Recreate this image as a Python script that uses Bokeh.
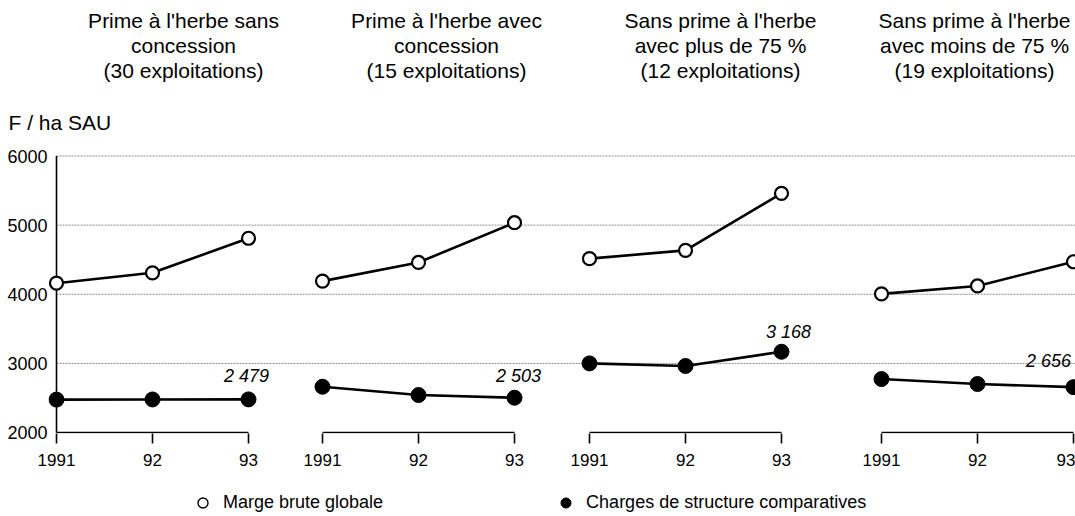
from bokeh.plotting import figure
from bokeh.layouts import column
from bokeh.models import Range1d, FixedTicker, Label, Legend, LegendItem, ColumnDataSource
from bokeh.embed import file_html
from bokeh.resources import INLINE

# ---------------- data ----------------
heading_line1 = ["Prime à l'herbe sans", "Prime à l'herbe avec", "Sans prime à l'herbe", "Sans prime à l'herbe"]
heading_line2 = ["concession", "concession", "avec plus de 75 %", "avec moins de 75 %"]
heading_line3 = ["(30 exploitations)", "(15 exploitations)", "(12 exploitations)", "(19 exploitations)"]
years = ["1991", "92", "93"]

marge_g1 = [4160, 4310, 4810]
marge_g2 = [4190, 4460, 5035]
marge_g3 = [4515, 4635, 5460]
marge_g4 = [4005, 4120, 4470]

charges_g1 = [2476, 2478, 2479]
charges_g2 = [2662, 2542, 2503]
charges_g3 = [3000, 2962, 3168]
charges_g4 = [2773, 2701, 2656]

charges_labels = ["2 479", "2 503", "3 168", "2 656"]
y_ticks = [2000, 3000, 4000, 5000, 6000]
grid_values = [3000, 4000, 5000, 6000]
y_unit_label = "F / ha SAU"
legend_labels = ["Marge brute globale", "Charges de structure comparatives"]

marge = [marge_g1, marge_g2, marge_g3, marge_g4]
charges = [charges_g1, charges_g2, charges_g3, charges_g4]

# ---------------- layout (pixels) ----------------
W = 1075
TOP_H = 100
MAIN_H = 380
LEG_H = 36
GROUP_START = [0, 266, 533, 825]   # x of the 1991 point of each group
YEAR_STEP = 96
X_LEFT, X_RIGHT = -8, 1019          # frames span page x 48..1075
PX_PER_Y = 276.5 / 4000.0
FRAME_TOP = 40                       # inside main figure (page y 140)
FRAME_H = 293                        # page y 140..433
Y_START = 2000 - 1 / PX_PER_Y
Y_END = Y_START + FRAME_H / PX_PER_Y

FONT = "Liberation Sans"

# ---------------- header figure ----------------
top = figure(width=W, height=TOP_H, output_backend="svg", toolbar_location=None,
             x_range=Range1d(X_LEFT, X_RIGHT), y_range=Range1d(TOP_H, 0),
             x_axis_type=None, y_axis_type=None, min_border=0,
             min_border_left=48)
top.outline_line_color = None
heading_dx = [31, 28, 35, -3]
heading_rows = [(heading_line1, 20), (heading_line2, 45), (heading_line3, 70)]
for g in range(4):
    cx = GROUP_START[g] + YEAR_STEP + heading_dx[g]
    for rows, py in heading_rows:
        top.add_layout(Label(x=cx, y=py, text=rows[g], text_align="center",
                             text_baseline="middle", text_font=FONT, text_font_size="21px",
                             text_color="black"))

# ---------------- main figure ----------------
p = figure(width=W, height=MAIN_H, output_backend="svg", toolbar_location=None,
           x_range=Range1d(X_LEFT, X_RIGHT), y_range=Range1d(Y_START, Y_END),
           min_border_left=48, min_border_right=0, min_border_top=FRAME_TOP,
           min_border_bottom=MAIN_H - FRAME_TOP - FRAME_H,
           title=y_unit_label)
p.title.align = "left"
p.title.offset = -40
p.title.standoff = 14
p.title.text_font = FONT
p.title.text_font_size = "21px"
p.title.text_font_style = "normal"
p.title.text_color = "black"
p.outline_line_color = None
p.xgrid.visible = False
p.ygrid.visible = False

p.segment(x0=[0] * len(grid_values), y0=grid_values, x1=[X_RIGHT] * len(grid_values), y1=grid_values,
          line_color="#8c8c8c", line_width=1, line_dash="2 1")
p.segment(x0=[0], y0=[2000], x1=[0], y1=[6000], line_color="black", line_width=1.6)

tick_pos = []
tick_labels = {}
for g in range(4):
    xs = [GROUP_START[g] + i * YEAR_STEP for i in range(len(years))]
    for x, yl in zip(xs, years):
        tick_pos.append(x)
        tick_labels[x] = yl
    p.segment(x0=[xs[0]], y0=[2000], x1=[xs[-1]], y1=[2000], line_color="black", line_width=1.6)
    src_m = ColumnDataSource(dict(x=xs, y=marge[g]))
    src_c = ColumnDataSource(dict(x=xs, y=charges[g]))
    p.line("x", "y", source=src_m, line_color="black", line_width=2.6)
    p.scatter("x", "y", source=src_m, size=13, marker="circle", fill_color="white",
              line_color="black", line_width=2.2)
    p.line("x", "y", source=src_c, line_color="black", line_width=2.6)
    p.scatter("x", "y", source=src_c, size=15, marker="circle", fill_color="black",
              line_color="black", line_width=1)

label_dx = [-2, 4, 7, -25]
label_dy = [23, 22, 20, 26]
for g in range(4):
    p.add_layout(Label(x=GROUP_START[g] + 2 * YEAR_STEP, y=charges[g][-1], text=charges_labels[g],
                       x_offset=label_dx[g], y_offset=label_dy[g], text_align="center",
                       text_baseline="middle", text_font=FONT, text_font_size="18px",
                       text_font_style="italic", text_color="black"))

p.xaxis.ticker = FixedTicker(ticks=tick_pos)
p.xaxis.major_label_overrides = tick_labels
p.xaxis.axis_line_color = None
p.xaxis.major_tick_out = 10
p.xaxis.major_tick_in = 0
p.xaxis.minor_tick_out = 0
p.xaxis.minor_tick_in = 0
p.xaxis.major_tick_line_color = "black"
p.xaxis.major_tick_line_width = 1.6
p.xaxis.major_label_standoff = 10
p.xaxis.major_label_text_font = FONT
p.xaxis.major_label_text_font_size = "17px"
p.xaxis.major_label_text_color = "black"

p.yaxis.ticker = FixedTicker(ticks=y_ticks)
p.yaxis.axis_line_color = None
p.yaxis.major_tick_out = 0
p.yaxis.major_tick_in = 0
p.yaxis.minor_tick_out = 0
p.yaxis.minor_tick_in = 0
p.yaxis.major_label_standoff = 1
p.yaxis.major_label_text_font = FONT
p.yaxis.major_label_text_font_size = "18px"
p.yaxis.major_label_text_color = "black"

# ---------------- legend figure ----------------
leg = figure(width=W, height=LEG_H, output_backend="svg", toolbar_location=None,
             x_range=Range1d(X_LEFT, X_RIGHT), y_range=Range1d(0, 1),
             x_axis_type=None, y_axis_type=None, min_border=0, min_border_left=48)
leg.outline_line_color = None
leg_src_m = ColumnDataSource(dict(x=[GROUP_START[0] + i * YEAR_STEP for i in range(3)], y=marge_g1))
leg_src_c = ColumnDataSource(dict(x=[GROUP_START[0] + i * YEAR_STEP for i in range(3)], y=charges_g1))
r_open = leg.scatter("x", "y", source=leg_src_m, marker="circle", size=10, fill_color="white",
                     line_color="black", line_width=1.4)
r_fill = leg.scatter("x", "y", source=leg_src_c, marker="circle", size=10, fill_color="black",
                     line_color="black", line_width=1)
legend = Legend(items=[LegendItem(label=legend_labels[0], renderers=[r_open]),
                       LegendItem(label=legend_labels[1], renderers=[r_fill])],
                orientation="horizontal", location=(142, 1), spacing=170,
                glyph_width=25, glyph_height=25, label_standoff=8, padding=0, margin=0,
                border_line_color=None, background_fill_alpha=0,
                label_text_font=FONT, label_text_font_size="18px", label_text_color="black")
leg.add_layout(legend)

layout = column(top, p, leg, spacing=0)
open("out.html", "w").write(file_html(layout, INLINE))
